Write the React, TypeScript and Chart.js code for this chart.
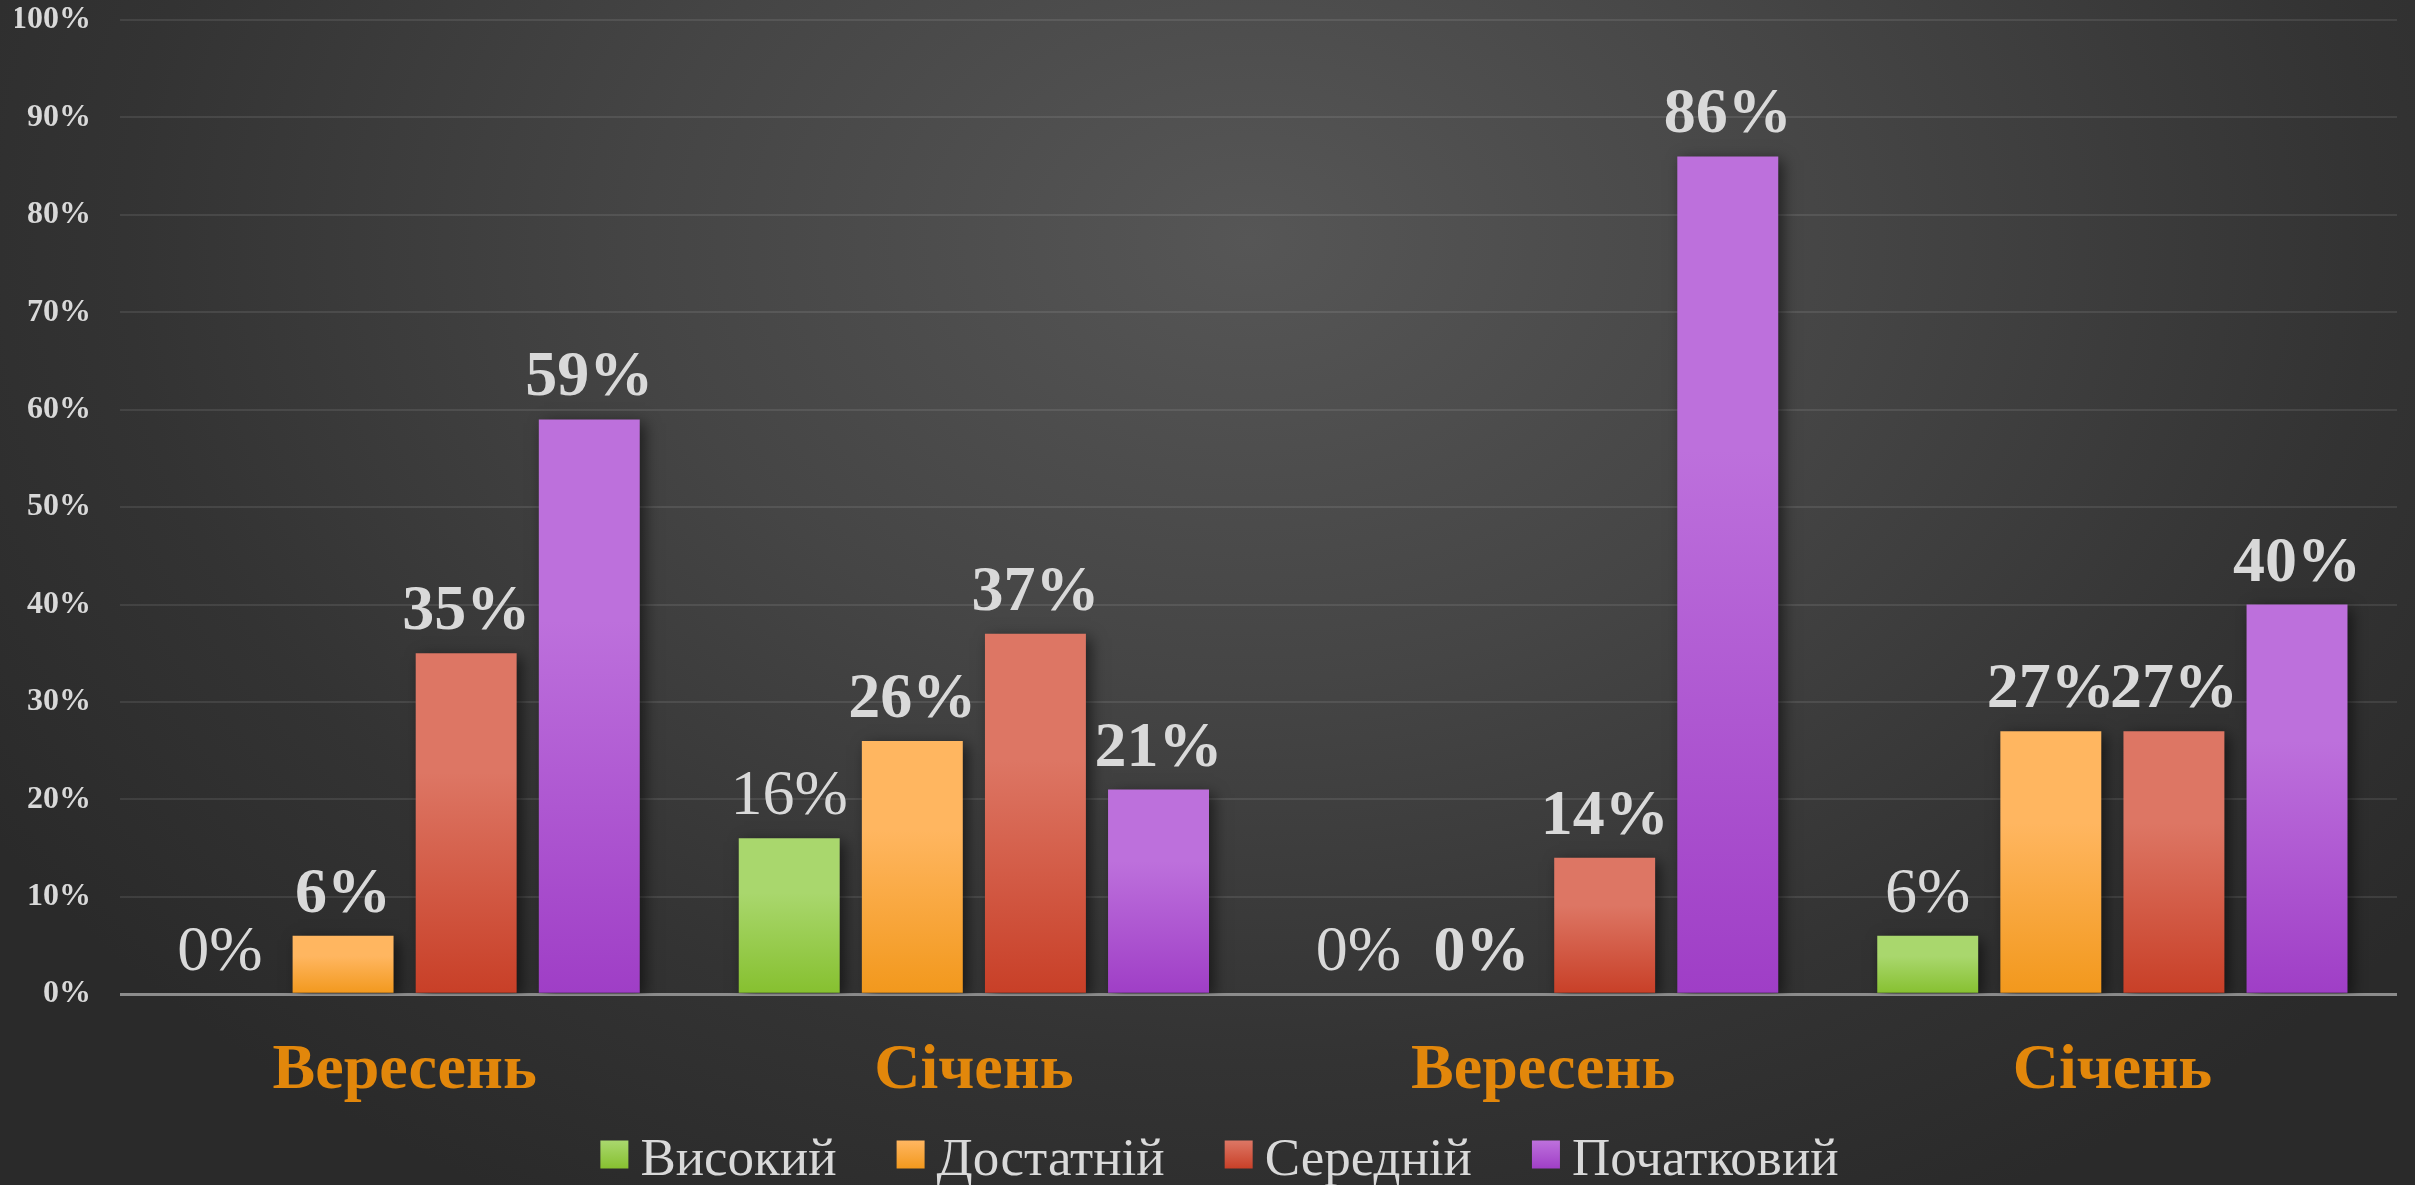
import React, { useEffect, useRef } from "react";
import { Chart, registerables } from "chart.js";

Chart.register(...registerables);

const categories = ["Вересень", "Січень", "Вересень", "Січень"];
const seriesNames = ["Високий", "Достатній", "Середній", "Початковий"];
const vysokyi = [0, 16, 0, 6];
const dostatnii = [6, 26, 0, 27];
const serednii = [35, 37, 14, 27];
const pochatkovyi = [59, 21, 86, 40];
const yTicks = [0, 10, 20, 30, 40, 50, 60, 70, 80, 90, 100];

const lightColors = ["#a9d76d", "#ffb660", "#dd7664", "#bd70dc"];
const darkColors = ["#86c02f", "#f2981c", "#c83f27", "#9f3ec6"];
const midColors = ["#97cb4c", "#f9a73e", "#d35a45", "#ae57d1"];

const SERIF = "'Liberation Serif', 'Times New Roman', serif";

export default function App() {
  const ref = useRef<HTMLCanvasElement | null>(null);

  useEffect(() => {
    const canvas = ref.current;
    if (!canvas) return;
    const values = [vysokyi, dostatnii, serednii, pochatkovyi];

    const makeBg = (i: number) => (ctx: any) => {
      const chart = ctx.chart;
      if (!chart.chartArea || ctx.type !== "data") return midColors[i];
      const y = chart.scales.y;
      const v = ctx.raw as number;
      const top = y.getPixelForValue(v);
      const bottom = y.getPixelForValue(0);
      if (!isFinite(top) || Math.abs(bottom - top) < 1) return midColors[i];
      const g = chart.ctx.createLinearGradient(0, top, 0, bottom);
      g.addColorStop(0, lightColors[i]);
      g.addColorStop(0.35, lightColors[i]);
      g.addColorStop(1, darkColors[i]);
      return g;
    };

    const shadowPlugin = {
      id: "barShadow",
      beforeDatasetsDraw(chart: any) {
        const c = chart.ctx;
        c.save();
        c.shadowColor = "rgba(0,0,0,0.55)";
        c.shadowBlur = 14;
        c.shadowOffsetX = 5;
        c.shadowOffsetY = 4;
      },
      afterDatasetsDraw(chart: any) {
        chart.ctx.restore();
      },
    };

    const labelPlugin = {
      id: "valueLabels",
      afterDatasetsDraw(chart: any) {
        const c = chart.ctx;
        chart.data.datasets.forEach((ds: any, di: number) => {
          const meta = chart.getDatasetMeta(di);
          meta.data.forEach((el: any, i: number) => {
            const v = ds.data[i];
            c.save();
            c.shadowColor = "transparent";
            c.fillStyle = "#d9d9d9";
            c.textAlign = "center";
            c.textBaseline = "alphabetic";
            c.font = (di === 0 ? "normal " : "bold ") + "64px " + SERIF;
            c.fillText(v + "%", el.x, el.y - 24);
            c.restore();
          });
        });
      },
    };

    // legend drawn on the canvas: square swatch, 12px gap, text, 60px between items
    const legendPlugin = {
      id: "bottomLegend",
      afterDraw(chart: any) {
        const c = chart.ctx;
        c.save();
        c.font = "normal 53px " + SERIF;
        const box = 28;
        const gap = 12;
        const itemGap = 60;
        const widths = seriesNames.map((n) => c.measureText(n).width);
        const total = widths.reduce((a, w) => a + box + gap + w, 0) + itemGap * (seriesNames.length - 1);
        let x = chart.width / 2 + 12 - total / 2;
        const cy = 1155;
        seriesNames.forEach((name, i) => {
          const g = c.createLinearGradient(0, cy - box / 2, 0, cy + box / 2);
          g.addColorStop(0, lightColors[i]);
          g.addColorStop(1, darkColors[i]);
          c.fillStyle = g;
          c.fillRect(x, cy - box / 2 - 0.5, box, box);
          x += box + gap;
          c.fillStyle = "#d9d9d9";
          c.textAlign = "left";
          c.textBaseline = "alphabetic";
          c.fillText(name, x, cy + 20);
          x += widths[i] + itemGap;
        });
        c.restore();
      },
    };

    const chart = new Chart(canvas, {
      type: "bar",
      data: {
        labels: categories,
        datasets: seriesNames.map((name, i) => ({
          label: name,
          data: values[i],
          backgroundColor: makeBg(i),
          borderWidth: 0,
          categoryPercentage: 0.865,
          barPercentage: 0.82,
        })),
      },
      options: {
        responsive: false,
        animation: false,
        layout: { padding: { left: 15, right: 18, top: 20, bottom: 44 } },
        plugins: {
          tooltip: { enabled: false },
          legend: { display: false },
        },
        scales: {
          x: {
            grid: { display: false },
            border: { display: false },
            ticks: {
              color: "#e2870b",
              font: { family: SERIF, size: 64, weight: "bold" },
              padding: 31,
            },
          },
          y: {
            min: 0,
            max: 100,
            afterBuildTicks: (axis: any) => {
              axis.ticks = yTicks.map((v) => ({ value: v }));
            },
            afterFit: (axis: any) => {
              axis.width = 105;
            },
            border: { display: false },
            grid: {
              drawTicks: true,
              tickLength: 29,
              tickColor: "rgba(0,0,0,0)",
              color: (ctx: any) => (ctx.tick && ctx.tick.value === 0 ? "#8c8c8c" : "rgba(255,255,255,0.09)"),
              lineWidth: (ctx: any) => (ctx.tick && ctx.tick.value === 0 ? 3 : 2),
            },
            ticks: {
              color: "#d9d9d9",
              font: { family: SERIF, size: 32, weight: "bold" },
              padding: 0,
              callback: (v: any) => v + "%",
            },
          },
        },
      },
      plugins: [shadowPlugin, labelPlugin, legendPlugin],
    });

    return () => chart.destroy();
  }, []);

  return (
    <div
      style={{
        position: "fixed",
        left: 0,
        top: 0,
        width: 2415,
        height: 1185,
        background:
          "radial-gradient(ellipse 1500px 1100px at 1250px 240px, #565656 0%, #454545 40%, #333333 75%, #2a2a2a 100%)",
      }}
    >
      <canvas ref={ref} width={2415} height={1185} style={{ display: "block" }} />
    </div>
  );
}
